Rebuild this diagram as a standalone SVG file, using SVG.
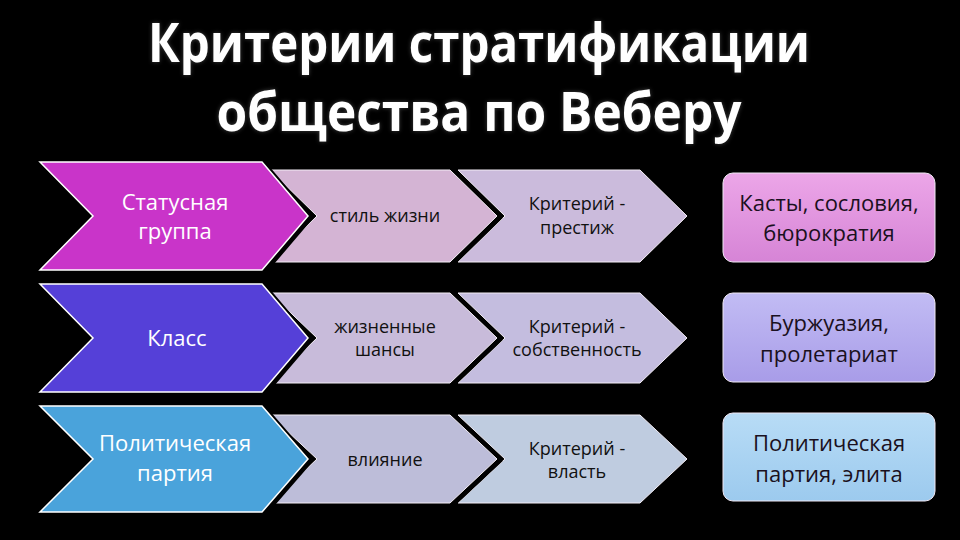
<svg xmlns="http://www.w3.org/2000/svg" width="960" height="540" viewBox="0 0 960 540">
<defs>
<style>
.title{font-family:"Open Sans","Noto Sans","DejaVu Sans",sans-serif;font-weight:bold;font-size:54px;fill:#fff;text-anchor:middle}
.big{stroke:#fff;stroke-width:1.5;stroke-linejoin:miter}
.mid{stroke:#f4eef6;stroke-width:1;stroke-linejoin:miter}
.shadow{fill:#000;stroke:#000;stroke-width:5;stroke-linejoin:miter}
.wt{font-family:"Open Sans","Noto Sans","DejaVu Sans",sans-serif;font-size:22px;fill:#fff;text-anchor:middle}
.bt{font-family:"Open Sans","Noto Sans","DejaVu Sans",sans-serif;font-size:18px;fill:#111;text-anchor:middle}
.rt{font-family:"Open Sans","Noto Sans","DejaVu Sans",sans-serif;font-size:22px;fill:#1a1020;text-anchor:middle}
.box{stroke:#f0e8f4;stroke-width:1}
</style>
<filter id="glow" x="-10%" y="-30%" width="120%" height="160%">
<feGaussianBlur in="SourceAlpha" stdDeviation="2" result="b"/>
<feFlood flood-color="#ffffff" flood-opacity="0.25"/>
<feComposite in2="b" operator="in" result="g"/>
<feMerge><feMergeNode in="g"/><feMergeNode in="SourceGraphic"/></feMerge>
</filter>
<linearGradient id="g1" x1="0" y1="0" x2="0" y2="1"><stop offset="0" stop-color="#eca6e8"/><stop offset="1" stop-color="#d684d6"/></linearGradient>
<linearGradient id="g2" x1="0" y1="0" x2="0" y2="1"><stop offset="0" stop-color="#c2bcf4"/><stop offset="1" stop-color="#a89ce8"/></linearGradient>
<linearGradient id="g3" x1="0" y1="0" x2="0" y2="1"><stop offset="0" stop-color="#b8dcf6"/><stop offset="1" stop-color="#9ccaee"/></linearGradient>
</defs>
<rect width="960" height="540" fill="#000"/>
<g id="title" filter="url(#glow)">
<text class="title" x="479" y="62" textLength="662" lengthAdjust="spacingAndGlyphs">Критерии стратификации</text>
<text class="title" x="479" y="131" textLength="525" lengthAdjust="spacingAndGlyphs">общества по Веберу</text>
</g>

<!-- Row 1 -->
<g id="r1c3">
<polygon class="mid" fill="#cbbbdc" points="458,170 640,170 687,216 640,262 458,262 505,216"/>
<text class="bt" x="577" y="210">Критерий -</text>
<text class="bt" x="577" y="234">престиж</text>
</g>
<g id="r1c2">
<polygon class="shadow" points="272,172 452,172 499,218 452,264 272,264 319,218"/>
<polygon class="mid" fill="#d4b4d4" points="270,170 450,170 497,216 450,262 270,262 317,216"/>
<text class="bt" x="385" y="222">стиль жизни</text>
</g>
<g id="r1c1">
<polygon class="shadow" points="42,164 264,164 310,218 264,272 42,272 95,218"/>
<polygon class="big" fill="#c934c9" points="40,162 262,162 308,216 262,270 40,270 93,216"/>
<text class="wt" x="175" y="210">Статусная</text>
<text class="wt" x="175" y="239">группа</text>
</g>
<g id="r1box">
<rect class="box" x="723" y="173" width="212" height="89" rx="10" fill="url(#g1)"/>
<text class="rt" x="829" y="211">Касты, сословия,</text>
<text class="rt" x="829" y="241">бюрократия</text>
</g>

<!-- Row 2 -->
<g id="r2c3">
<polygon class="mid" fill="#c4bddf" points="458,293 640,293 687,338 640,383 458,383 505,338"/>
<text class="bt" x="577" y="333">Критерий -</text>
<text class="bt" x="577" y="356">собственность</text>
</g>
<g id="r2c2">
<polygon class="shadow" points="272,295 452,295 499,340 452,385 272,385 319,340"/>
<polygon class="mid" fill="#c8bbda" points="270,293 450,293 497,338 450,383 270,383 317,338"/>
<text class="bt" x="385" y="333">жизненные</text>
<text class="bt" x="385" y="356">шансы</text>
</g>
<g id="r2c1">
<polygon class="shadow" points="42,286 264,286 310,340 264,394 42,394 95,340"/>
<polygon class="big" fill="#5540d8" points="40,284 262,284 308,338 262,392 40,392 93,338"/>
<text class="wt" x="177" y="346">Класс</text>
</g>
<g id="r2box">
<rect class="box" x="723" y="293" width="212" height="89" rx="10" fill="url(#g2)"/>
<text class="rt" x="829" y="331">Буржуазия,</text>
<text class="rt" x="829" y="362">пролетариат</text>
</g>

<!-- Row 3 -->
<g id="r3c3">
<polygon class="mid" fill="#bfcce0" points="458,415 640,415 687,459 640,503 458,503 505,459"/>
<text class="bt" x="577" y="455">Критерий -</text>
<text class="bt" x="577" y="478">власть</text>
</g>
<g id="r3c2">
<polygon class="shadow" points="272,417 452,417 499,461 452,505 272,505 319,461"/>
<polygon class="mid" fill="#bdbdd9" points="270,415 450,415 497,459 450,503 270,503 317,459"/>
<text class="bt" x="385" y="466">влияние</text>
</g>
<g id="r3c1">
<polygon class="shadow" points="42,408 264,408 310,461 264,514 42,514 95,461"/>
<polygon class="big" fill="#4aa3db" points="40,406 262,406 308,459 262,512 40,512 93,459"/>
<text class="wt" x="175" y="451">Политическая</text>
<text class="wt" x="175" y="481">партия</text>
</g>
<g id="r3box">
<rect class="box" x="723" y="413" width="212" height="88" rx="10" fill="url(#g3)"/>
<text class="rt" x="829" y="451">Политическая</text>
<text class="rt" x="829" y="482">партия, элита</text>
</g>
<g id="connectors"/>
</svg>
